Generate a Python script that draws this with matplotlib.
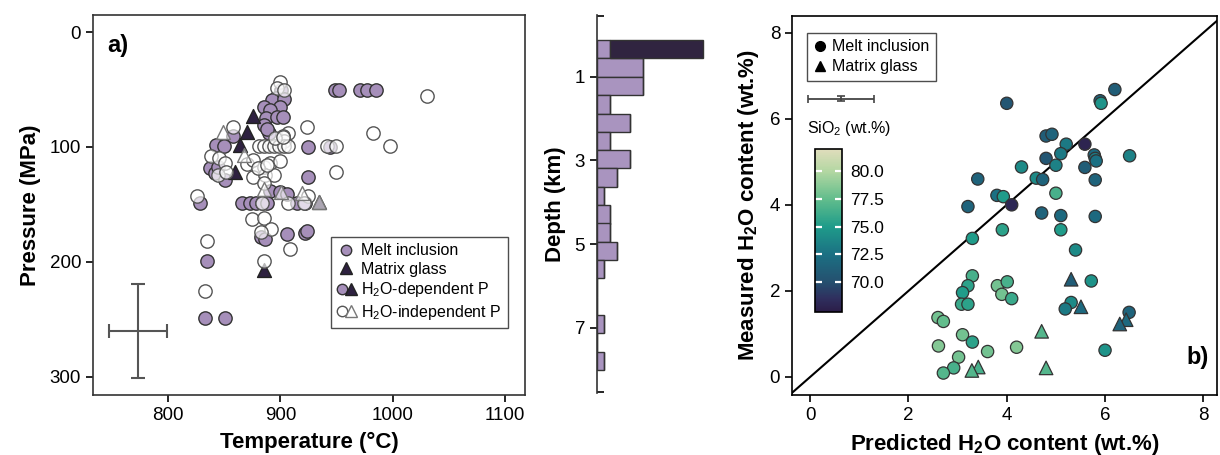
import matplotlib
matplotlib.use("Agg")
import matplotlib.pyplot as plt
import numpy as np
from matplotlib.colors import LinearSegmentedColormap
from matplotlib.lines import Line2D
from matplotlib.legend_handler import HandlerTuple

plt.rcParams['font.family'] = ['Liberation Sans', 'DejaVu Sans']
plt.rcParams['mathtext.default'] = 'regular'

# ---- panel a: T-P of melt inclusions / matrix glass ----
# melt inclusions, H2O-dependent pressure
mi_dep_T = [949, 952, 971, 977, 985, 901, 896, 893, 903, 900, 885, 891, 887, 897, 902,
            885, 890, 888, 858, 843, 850, 925, 944, 837, 842, 851, 844, 925, 891, 900,
            906, 828, 866, 873, 878, 884, 888, 915, 922, 883, 886, 906, 922, 924, 835,
            833, 851]
mi_dep_P = [50, 50, 50, 50, 50, 50, 57, 59, 58, 65, 65, 68, 75, 74, 74,
            81, 88, 84, 90, 98, 99, 100, 100, 118, 123, 129, 117, 126, 138, 139,
            141, 149, 149, 149, 149, 149, 149, 149, 149, 178, 180, 176, 175, 173, 199,
            249, 249]
# matrix glass, H2O-dependent pressure
mg_dep_T = [876, 870, 864, 860, 885, 934]
mg_dep_P = [73, 87, 98, 122, 207, 148]
# melt inclusions, H2O-independent pressure
mi_ind_T = [900, 897, 903, 1031, 907, 902, 903, 924, 983, 998, 950, 858, 838, 845, 851,
            844, 852, 870, 876, 885, 891, 900, 876, 886, 894, 885, 881, 885, 890, 894,
            899, 903, 907, 942, 950, 826, 884, 907, 925, 921, 875, 885, 892, 883, 909,
            835, 833, 885, 895, 902, 880, 888]
mi_ind_P = [43, 49, 50, 56, 88, 90, 95, 83, 88, 99, 122, 83, 108, 110, 114,
            124, 122, 115, 111, 117, 114, 112, 126, 124, 124, 131, 99, 99, 99, 99,
            99, 99, 99, 99, 99, 143, 149, 149, 143, 149, 163, 162, 171, 174, 189,
            182, 225, 199, 92, 91, 118, 116]
# matrix glass, H2O-independent pressure
mg_ind_T = [849, 868, 885, 901, 919, 934]
mg_ind_P = [87, 107, 137, 139, 140, 148]

# typical uncertainty
err_T, err_P = 773, 260
err_dT, err_dP = 26, 41

# ---- depth histogram ----
depth_bins = [0.12, 0.56, 1.0, 1.44, 1.88, 2.31, 2.75, 3.19, 3.63, 4.07, 4.5, 4.94,
              5.38, 5.82, 6.26, 6.69, 7.13, 7.57]
bin_width = 0.44
counts_light = [2, 7, 7, 2, 5, 2, 5, 3, 1, 2, 2, 3, 1, 0, 0, 1, 0, 1]
counts_dark = [14, 0, 0, 0, 0, 0, 0, 0, 0, 0, 0, 0, 0, 0, 0, 0, 0, 0]

# ---- panel b: predicted vs measured H2O ----
pred_mi = [4.0, 6.2, 5.9, 5.92, 4.8, 4.92, 5.21, 5.59, 5.1, 4.8, 5.78, 5.8, 5.82, 6.5, 4.3,
           5.0, 5.59, 4.6, 4.73, 5.8, 3.41, 3.8, 3.93, 4.1, 5.0, 3.21, 4.71, 5.1, 5.8, 3.91,
           5.1, 3.3, 5.4, 3.3, 3.21, 3.1, 3.08, 3.21, 3.81, 4.01, 3.9, 4.1, 5.72, 5.31, 5.19,
           6.49, 2.6, 2.71, 3.1, 3.3, 2.61, 3.61, 4.2, 6.0, 3.02, 2.92, 2.71]
meas_mi = [6.36, 6.68, 6.42, 6.36, 5.6, 5.64, 5.41, 5.41, 5.19, 5.08, 5.16, 5.08, 5.02, 5.14, 4.88,
           4.92, 4.87, 4.62, 4.59, 4.58, 4.6, 4.22, 4.19, 4.0, 4.27, 3.96, 3.81, 3.75, 3.73, 3.42,
           3.42, 3.22, 2.95, 2.35, 2.12, 1.96, 1.69, 1.69, 2.12, 2.21, 1.92, 1.82, 2.23, 1.73, 1.58,
           1.5, 1.38, 1.29, 0.98, 0.81, 0.72, 0.59, 0.69, 0.62, 0.46, 0.21, 0.09]
sio2_mi = [70.5, 71, 71.5, 74.5, 71, 71.5, 73, 67.8, 73, 70.5, 72, 73, 72.5, 73.5, 74,
           73.5, 71, 74, 71.5, 71.5, 71.5, 72.5, 75, 68, 76.5, 71.5, 71.5, 72, 72, 75.5,
           75, 75, 74, 76.5, 75.5, 75, 76, 75.5, 78, 76.5, 78, 76, 74.5, 74, 73,
           71.5, 78, 77.5, 78, 75.5, 78.5, 78, 78.5, 74.5, 78, 76.5, 77]
pred_mg = [5.31, 5.51, 6.43, 6.3, 4.71, 4.8, 3.42, 3.29]
meas_mg = [2.27, 1.63, 1.33, 1.23, 1.06, 0.21, 0.23, 0.15]
sio2_mg = [71, 72, 72, 71.5, 77, 77, 76.5, 77]

sio2_min, sio2_max = 67.3, 82.0

purple = '#a68fba'
dark = '#2e2140'
edge = '#333333'

fig = plt.figure(figsize=(12.2, 4.55), dpi=100)

# ---------------- panel a ----------------
ax = fig.add_axes([0.0762, 0.1319, 0.3541, 0.8352])
ax.scatter(mi_dep_T, mi_dep_P, s=92, marker='o', facecolor=purple, edgecolor=edge, lw=1, zorder=2)
ax.scatter(mg_dep_T, mg_dep_P, s=100, marker='^', facecolor=dark, edgecolor='#222222', lw=1, zorder=3)
ax.scatter(mi_ind_T, mi_ind_P, s=92, marker='o', facecolor=(1, 1, 1, 0.68), edgecolor='#555555', lw=1, zorder=4)
ax.scatter(mg_ind_T, mg_ind_P, s=100, marker='^', facecolor=(1, 1, 1, 0.6), edgecolor='#777777', lw=1, zorder=5)
ax.errorbar(err_T, err_P, xerr=err_dT, yerr=err_dP, color='#555555', lw=1.5, capsize=5, capthick=1.5)

ax.set_xlim(733, 1118)
ax.set_ylim(316, -15)
ax.set_xticks([800, 900, 1000, 1100])
ax.set_yticks([0, 100, 200, 300])
ax.tick_params(labelsize=13.5, length=5, width=1.2)
ax.set_xlabel('Temperature (°C)', fontsize=16, fontweight='bold', labelpad=6)
ax.set_ylabel('Pressure (MPa)', fontsize=16, fontweight='bold', labelpad=6)
for sp in ax.spines.values():
    sp.set_color('#333333')
    sp.set_linewidth(1.2)
ax.text(0.032, 0.92, 'a)', transform=ax.transAxes, fontsize=17, fontweight='bold', va='center')

h_mi = Line2D([], [], ls='none', marker='o', ms=7.5, mfc=purple, mec=edge)
h_mg = Line2D([], [], ls='none', marker='^', ms=8.5, mfc=dark, mec='#222222')
h_mi_open = Line2D([], [], ls='none', marker='o', ms=7.5, mfc='white', mec='#555555')
h_mg_open = Line2D([], [], ls='none', marker='^', ms=8.5, mfc='white', mec='#777777')
leg = ax.legend([h_mi, h_mg, (h_mi, h_mg), (h_mi_open, h_mg_open)],
                ['Melt inclusion', 'Matrix glass', 'H$_2$O-dependent P', 'H$_2$O-independent P'],
                handler_map={tuple: HandlerTuple(ndivide=None, pad=0)},
                loc='lower right', bbox_to_anchor=(0.96, 0.176), borderaxespad=0,
                fontsize=11.5, frameon=True, fancybox=False, edgecolor='#222222',
                handlelength=1.2, handletextpad=0.3, labelspacing=0.22, borderpad=0.4)
leg.get_frame().set_linewidth(1.0)

# ---------------- depth histogram ----------------
axh = fig.add_axes([0.4893, 0.1363, 0.1008, 0.8308])
axh.barh(depth_bins, counts_light, height=bin_width, align='edge', color='#a994bf',
         edgecolor=edge, lw=1)
axh.barh(depth_bins, counts_dark, left=counts_light, height=bin_width, align='edge',
         color='#302440', edgecolor=edge, lw=1)
axh.set_ylim(8.56, -0.48)
axh.set_xlim(0, 18.6)
for side in ['top', 'right', 'bottom']:
    axh.spines[side].set_visible(False)
axh.spines['left'].set_color('#333333')
axh.spines['left'].set_linewidth(1.2)
axh.set_xticks([])
axh.set_yticks([1, 3, 5, 7])
axh.set_yticks([-0.46, 8.54], minor=True)
axh.tick_params(axis='y', which='major', labelsize=13.5, length=5, width=1.2)
axh.tick_params(axis='y', which='minor', direction='in', length=5, width=1.2, left=True)
axh.set_ylabel('Depth (km)', fontsize=16, fontweight='bold', labelpad=6)

# ---------------- panel b ----------------
cmap = LinearSegmentedColormap.from_list('sio2', [
    (0.0, '#2b1d48'),
    ((68.5 - sio2_min) / (sio2_max - sio2_min), '#2f2f5e'),
    ((70.0 - sio2_min) / (sio2_max - sio2_min), '#25506f'),
    ((72.5 - sio2_min) / (sio2_max - sio2_min), '#1b7083'),
    ((75.0 - sio2_min) / (sio2_max - sio2_min), '#1f9c8a'),
    ((77.5 - sio2_min) / (sio2_max - sio2_min), '#62bd8c'),
    ((80.0 - sio2_min) / (sio2_max - sio2_min), '#b3d7a2'),
    (1.0, '#e0ddbc')])

axb = fig.add_axes([0.6492, 0.1319, 0.3484, 0.833])
axb.plot([-1, 9], [-1, 9], color='black', lw=1.5, zorder=1)
sc = axb.scatter(pred_mi, meas_mi, c=sio2_mi, cmap=cmap, vmin=sio2_min, vmax=sio2_max,
                 s=78, marker='o', edgecolor=edge, lw=0.9, zorder=3)
axb.scatter(pred_mg, meas_mg, c=sio2_mg, cmap=cmap, vmin=sio2_min, vmax=sio2_max,
            s=95, marker='^', edgecolor=edge, lw=0.9, zorder=3)
axb.errorbar(0.62, 6.47, xerr=0.67, yerr=0.05, color='#444444', lw=1.3, capsize=3, capthick=1.2)
axb.set_xlim(-0.37, 8.28)
axb.set_ylim(-0.42, 8.39)
axb.set_xticks([0, 2, 4, 6, 8])
axb.set_yticks([0, 2, 4, 6, 8])
axb.tick_params(labelsize=13.5, length=5, width=1.2)
for sp in axb.spines.values():
    sp.set_linewidth(1.2)
axb.set_xlabel('Predicted H$_2$O content (wt.%)', fontsize=16, fontweight='bold', labelpad=6)
axb.set_ylabel('Measured H$_2$O content (wt.%)', fontsize=16, fontweight='bold', labelpad=6)
axb.text(0.953, 0.098, 'b)', transform=axb.transAxes, fontsize=17, fontweight='bold',
         ha='center', va='center')

hb_mi = Line2D([], [], ls='none', marker='o', ms=7, mfc='black', mec='black')
hb_mg = Line2D([], [], ls='none', marker='^', ms=7.5, mfc='black', mec='black')
legb = axb.legend([hb_mi, hb_mg], ['Melt inclusion', 'Matrix glass'], loc='upper left',
                  bbox_to_anchor=(0.035, 0.955), borderaxespad=0, fontsize=11.5,
                  fancybox=False, edgecolor='#222222', handlelength=0.8,
                  handletextpad=0.4, labelspacing=0.3, borderpad=0.4)
legb.get_frame().set_linewidth(1.0)

fig.text(807 / 1220, 1 - 128 / 455, 'SiO$_2$ (wt.%)', fontsize=11.5, va='center', ha='left')
cax = fig.add_axes([815 / 1220, 1 - 312 / 455, 27 / 1220, 163 / 455])
cb = fig.colorbar(sc, cax=cax)
cb.set_ticks([70, 72.5, 75, 77.5, 80])
cb.ax.set_yticklabels(['70.0', '72.5', '75.0', '77.5', '80.0'])
cb.ax.tick_params(direction='in', color='white', length=5, width=1.6, left=True, right=True,
                  labelcolor='black', labelsize=12.5, pad=6)
cb.outline.set_linewidth(1.2)

fig.savefig('out.png', dpi=100)
